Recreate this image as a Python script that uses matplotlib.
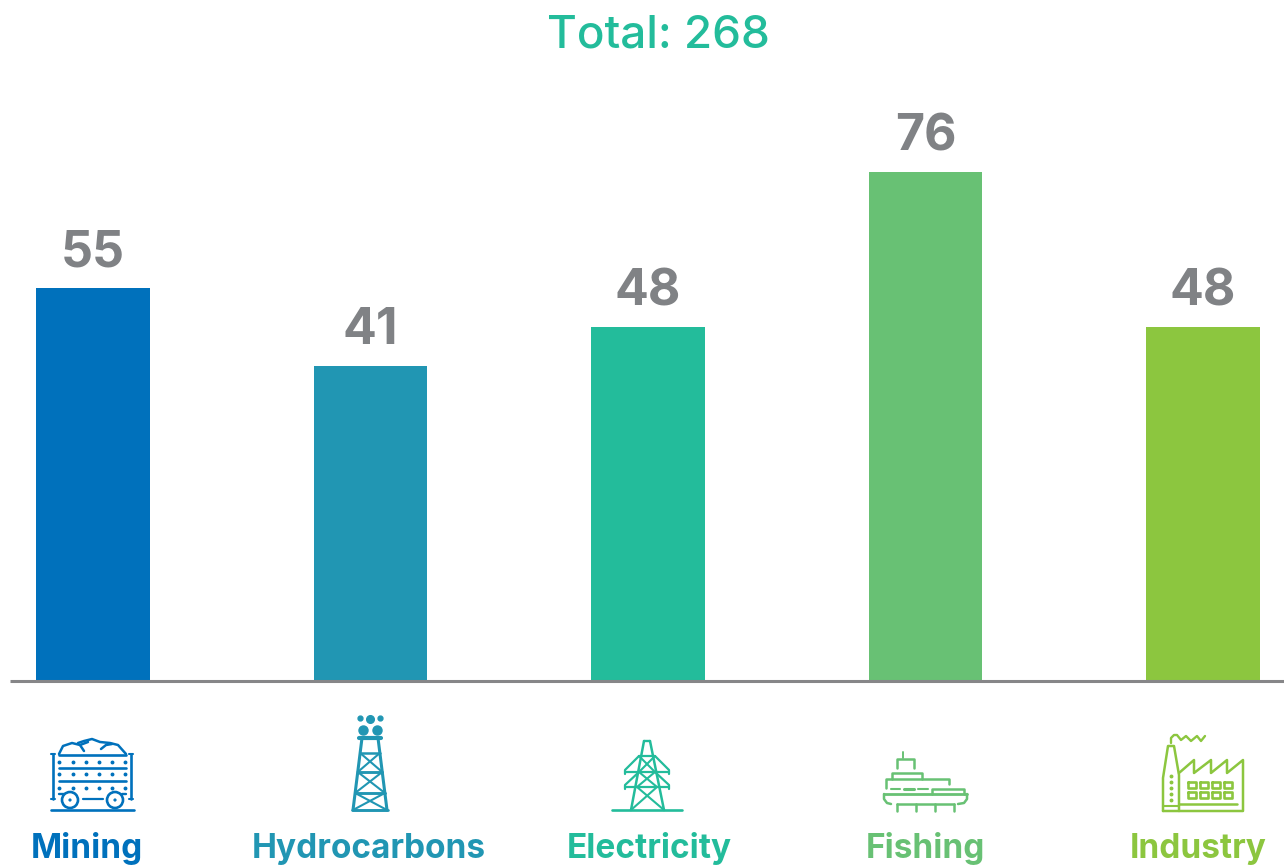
import matplotlib
matplotlib.use('Agg')
import matplotlib.pyplot as plt
from matplotlib.patches import Circle

categories = ['Mining', 'Hydrocarbons', 'Electricity', 'Fishing', 'Industry']
values = [55, 41, 48, 76, 48]
colors = ['#0071BC', '#2196B3', '#23BC9B', '#68C174', '#8CC63F']
total = 268
label_px = [87, 369, 649, 925, 1198]

GREY = '#808285'
plt.rcParams['font.family'] = ['Inter', 'Lato', 'DejaVu Sans']

W, H = 1284, 868
fig = plt.figure(figsize=(W / 100, H / 100), dpi=100, facecolor='white')

# bars sit on a baseline that is not at zero in the original (about -15.7)
base = -15.7
px_per_unit = 5.54
ax = fig.add_axes([0, (H - 680) / H, 1, 680 / H])
ax.set_xlim(-93 / 277.5, (W - 93) / 277.5)
ax.set_ylim(base, base + 680 / px_per_unit)
ax.axis('off')
xs = list(range(len(values)))
ax.bar(xs, [v - base for v in values], width=0.41, bottom=base, color=colors)
for x, v in zip(xs, values):
    ax.annotate(str(v), (x, v), xytext=(0, 15.5), textcoords='offset points',
                ha='center', va='baseline', fontsize=36, fontweight='bold', color=GREY)

# overlay in pixel coordinates, for baseline, title, icons and labels
ov = fig.add_axes([0, 0, 1, 1])
ov.set_xlim(0, W)
ov.set_ylim(H, 0)
ov.axis('off')
ov.patch.set_alpha(0)

ov.plot([10, W], [680.5, 680.5], color='#868688', lw=2.2, solid_capstyle='butt')
ov.text(658, 48, 'Total: %d' % total, ha='center', va='baseline', fontsize=33,
        color=colors[2], fontweight='medium')

for name, x, c in zip(categories, label_px, colors):
    ov.text(x, 858, name, ha='center', va='baseline', fontsize=24, fontweight='bold', color=c)


def line(pts, c, lw=1.5):
    ov.plot([p[0] for p in pts], [p[1] for p in pts], color=c, lw=lw,
            solid_capstyle='round', solid_joinstyle='round')


def box(x0, y0, x1, y1, c, lw=1.5):
    line([(x0, y0), (x1, y0), (x1, y1), (x0, y1), (x0, y0)], c, lw)


def icon_mining(c):
    line([(51, 810), (134, 810)], c, 1.9)
    for x in (53, 131):
        line([(x, 754), (x, 799)], c, 1.9)
        line([(x - 2, 754), (x + 2, 754)], c, 1.5)
        line([(x - 2, 799), (x + 2, 799)], c, 1.5)
    for y in (755, 768, 781):
        line([(59, y), (126, y)], c, 1.9)
    line([(59, 794), (64, 794)], c, 1.7)
    line([(122, 794), (126, 794)], c, 1.7)
    for y in (762, 774, 788):
        ov.plot([59, 73, 86, 99, 112, 125], [y] * 6, ls='', marker='o', ms=1.8, color=c)
    for x in (70, 115):
        ov.add_patch(Circle((x, 800), 8, fill=False, ec=c, lw=1.9))
        ov.add_patch(Circle((x, 800), 1.2, fc=c, ec=c, lw=0.5))
    line([(83, 799), (103, 799)], c, 1.6)
    line([(59, 754), (63, 746), (72, 743), (80, 745), (84, 751)], c, 1.8)
    line([(78, 743), (84, 741), (92, 739), (100, 742), (110, 743), (118, 745), (126, 754)], c, 1.8)
    line([(80, 745), (88, 742)], c, 1.8)
    line([(101, 749), (106, 745), (112, 744)], c, 1.8)


def icon_hydro(c):
    line([(362, 738), (353, 810)], c, 2.2)
    line([(378, 738), (387, 810)], c, 2.2)
    line([(359, 738), (381, 738)], c, 3.0)
    line([(352, 810), (388, 810)], c, 1.9)
    rows = [(753, 772), (772, 793), (793, 810)]
    for y0, y1 in rows:
        x0 = 362 - (y0 - 738) / 8
        x1 = 378 + (y0 - 738) / 8
        x2 = 362 - (y1 - 738) / 8
        x3 = 378 + (y1 - 738) / 8
        line([(x0, y0), (x1, y0)], c, 1.8)
        line([(x2, y1), (x3, y1)], c, 1.8)
        line([(x0, y0), (x3, y1)], c, 1.5)
        line([(x1, y0), (x2, y1)], c, 1.5)
    ov.plot([360, 380], [718, 718], ls='', marker='o', ms=3.5, color=c)
    ov.plot([370], [719], ls='', marker='o', ms=5.5, color=c)
    ov.plot([363, 377], [730, 730], ls='', marker='o', ms=6.5, color=c)


def icon_electricity(c):
    line([(612, 810), (682, 810)], c, 1.9)
    line([(644, 741), (650, 741)], c, 1.7)
    line([(644, 741), (631, 810)], c, 1.8)
    line([(650, 741), (664, 810)], c, 1.8)
    line([(639, 756), (655, 756)], c, 1.6)
    line([(625, 772), (669, 772)], c, 1.6)
    line([(625, 787), (669, 787)], c, 1.6)
    line([(639, 756), (625, 770), (625, 774)], c, 1.6)
    line([(655, 756), (669, 770), (669, 774)], c, 1.6)
    line([(639, 772), (625, 785), (625, 789)], c, 1.6)
    line([(655, 772), (669, 785), (669, 789)], c, 1.6)
    line([(639, 756), (655, 772), (637, 787), (664, 810)], c, 1.5)
    line([(655, 756), (639, 772), (657, 787), (631, 810)], c, 1.5)


def icon_fishing(c):
    line([(903, 752), (903, 758)], c, 1.4)
    line([(897, 768), (897, 759), (914, 759), (914, 768)], c, 1.8)
    line([(892, 779), (892, 773), (922, 773), (922, 779)], c, 1.8)
    line([(886, 788), (886, 779), (949, 779), (949, 784)], c, 1.8)
    line([(891, 789), (900, 789)], c, 1.5)
    line([(904, 789), (914, 789)], c, 2.2)
    line([(918, 789), (928, 789)], c, 1.5)
    line([(932, 794), (932, 789), (964, 789), (964, 794)], c, 1.8)
    line([(884, 794), (967, 794)], c, 2.0)
    line([(884, 794), (884, 799), (887, 803), (891, 804)], c, 1.8)
    line([(967, 794), (967, 799), (964, 803), (958, 804)], c, 1.8)
    line([(897, 804), (954, 804)], c, 1.8)
    for x in (897, 916, 935, 954):
        line([(x, 804), (x, 811)], c, 1.8)


def icon_industry(c):
    line([(1171, 743), (1171, 738), (1174, 735), (1177, 735), (1181, 740), (1186, 736), (1191, 741),
          (1197, 736), (1201, 741), (1205, 736)], c, 1.7)
    line([(1163, 811), (1163, 778), (1168, 746), (1174, 746), (1179, 775), (1179, 811)], c, 1.8)
    line([(1179, 773), (1194, 760), (1194, 773), (1211, 760), (1211, 773), (1227, 760),
          (1227, 773), (1243, 760), (1243, 811), (1163, 811)], c, 1.8)
    line([(1179, 804), (1237, 804)], c, 1.8)
    line([(1163, 806), (1179, 806)], c, 1.5)
    for y in (782, 792):
        for x in (1188, 1200, 1212, 1224):
            box(x, y, x + 8, y + 6, c, 1.9)
    ov.plot([1171] * 5, [776, 782, 788, 794, 800], ls='', marker='o', ms=1.8, color=c)


icon_mining(colors[0])
icon_hydro(colors[1])
icon_electricity(colors[2])
icon_fishing(colors[3])
icon_industry(colors[4])

fig.savefig('out.png', dpi=100, facecolor='white')
